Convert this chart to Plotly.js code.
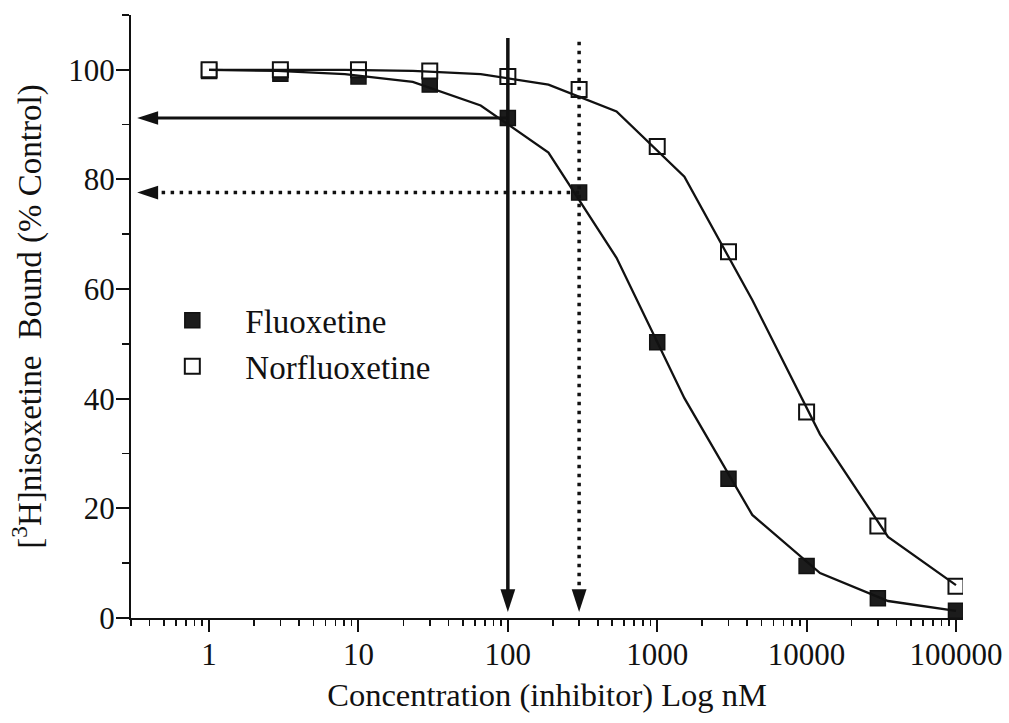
<!DOCTYPE html>
<html>
<head>
<meta charset="utf-8">
<script src="https://cdn.plot.ly/plotly-3.0.1.min.js"></script>
<style>
  html, body { margin: 0; padding: 0; background: #ffffff; }
  #chart { width: 1009px; height: 723px; }
</style>
</head>
<body>
<div id="chart"></div>
<script>
// ---- data ----
const conc = [1, 3, 10, 30, 100, 300, 1000, 3000, 10000, 30000, 100000];          // nM
const fluoxetine = [99.8, 99.3, 98.8, 97.3, 91.2, 77.6, 50.3, 25.4, 9.5, 3.6, 1.3];
const norfluoxetine = [100, 100, 100, 99.8, 98.8, 96.4, 86.0, 66.8, 37.6, 16.8, 5.8];

// fitted curves (vertices of the drawn polylines)
const fitConc = [1, 2.85, 8.11, 23.1, 65.8, 187, 534, 1520, 4330, 12300, 35100, 100000];
const fluoxetineFit = [100, 99.8, 99.2, 97.8, 93.5, 84.9, 65.7, 40.1, 18.8, 8.2, 3.1, 1.3];
const norfluoxetineFit = [100, 100, 100, 99.8, 99.2, 97.3, 92.4, 80.5, 58.0, 33.5, 14.8, 6.0];

// guide arrows: drawn from the fluoxetine points at 100 nM (solid) and 300 nM (dotted)
const arrowConc = [100, 300];
const arrowTop = [105.8, 105.1];
const arrowTipY = 1.1;
const arrowTipX = 0.33;

// axis ticks
const xTickVals = [1, 10, 100, 1000, 10000, 100000];
const xTickText = ['1', '10', '100', '1000', '10000', '100000'];
const yTickVals = [0, 20, 40, 60, 80, 100];
const yTickText = ['0', '20', '40', '60', '80', '100'];

const FONT = "'Liberation Serif', 'Times New Roman', Times, serif";
const INK = '#111111';

const solidIdx = conc.indexOf(arrowConc[0]);
const dotIdx = conc.indexOf(arrowConc[1]);
const solidY = fluoxetine[solidIdx];
const dotY = fluoxetine[dotIdx];

const traces = [
  // data markers (drawn first; lines pass over them as in the reference)
  { x: conc, y: fluoxetine, name: 'Fluoxetine', mode: 'markers',
    marker: { symbol: 'square', size: 15, color: '#1c1c1c', line: { color: INK, width: 1.5 } } },
  { x: conc, y: norfluoxetine, name: 'Norfluoxetine', mode: 'markers',
    marker: { symbol: 'square', size: 15, color: '#ffffff', line: { color: INK, width: 2 } } },
  // fitted curves
  { x: fitConc, y: norfluoxetineFit, mode: 'lines', line: { color: INK, width: 2.3 },
    showlegend: false, hoverinfo: 'skip' },
  { x: fitConc, y: fluoxetineFit, mode: 'lines', line: { color: INK, width: 2.3 },
    showlegend: false, hoverinfo: 'skip' },
  // solid guide (100 nM)
  { x: [arrowConc[0], arrowConc[0]], y: [arrowTop[0], arrowTipY + 3], mode: 'lines',
    line: { color: INK, width: 3.5 }, showlegend: false, hoverinfo: 'skip' },
  { x: [arrowConc[0], arrowTipX * 1.2], y: [solidY, solidY], mode: 'lines',
    line: { color: INK, width: 3 }, showlegend: false, hoverinfo: 'skip' },
  // dotted guide (300 nM)
  { x: [arrowConc[1], arrowConc[1]], y: [arrowTop[1], arrowTipY + 3], mode: 'lines',
    line: { color: INK, width: 3.5, dash: '3.5px,5.5px' }, showlegend: false, hoverinfo: 'skip' },
  { x: [arrowConc[1], arrowTipX * 1.2], y: [dotY, dotY], mode: 'lines',
    line: { color: INK, width: 3.5, dash: '3.5px,5.5px' }, showlegend: false, hoverinfo: 'skip' },
  // arrowheads
  { x: arrowConc, y: [arrowTipY, arrowTipY], mode: 'markers',
    marker: { symbol: 'arrow', angle: 180, size: 24, color: INK, line: { width: 0 } },
    showlegend: false, hoverinfo: 'skip' },
  { x: [arrowTipX, arrowTipX], y: [solidY, dotY], mode: 'markers',
    marker: { symbol: 'arrow', angle: 270, size: 22, color: INK, line: { width: 0 } },
    showlegend: false, hoverinfo: 'skip' }
];

const layout = {
  width: 1009,
  height: 723,
  margin: { l: 131, r: 46, t: 15, b: 105, pad: 0 },
  paper_bgcolor: '#ffffff',
  plot_bgcolor: '#ffffff',
  font: { family: FONT, size: 31, color: INK },
  showlegend: true,
  legend: {
    x: 0.01, y: 0.54, xanchor: 'left', yanchor: 'top',
    bgcolor: 'rgba(0,0,0,0)', borderwidth: 0,
    font: { family: FONT, size: 33, color: INK },
    itemwidth: 96, traceorder: 'normal'
  },
  xaxis: {
    type: 'log',
    range: [Math.log10(0.3), 5.047],
    tickmode: 'array', tickvals: xTickVals, ticktext: xTickText,
    ticks: 'outside', ticklen: 12, tickwidth: 2, tickcolor: INK,
    ticklabelstandoff: -4,
    minor: { dtick: 'D1', ticks: 'outside', ticklen: 6, tickwidth: 1.6, tickcolor: INK, showgrid: false },
    showline: true, linecolor: INK, linewidth: 2,
    showgrid: false, zeroline: false,
    tickfont: { family: FONT, size: 31, color: INK },
    title: { text: 'Concentration (inhibitor) Log nM', font: { family: FONT, size: 32.5, color: INK }, standoff: 12 }
  },
  yaxis: {
    range: [0, 110],
    tickmode: 'array', tickvals: yTickVals, ticktext: yTickText,
    ticks: 'outside', ticklen: 13, tickwidth: 2, tickcolor: INK,
    ticklabelstandoff: -5,
    minor: { dtick: 10, ticks: 'outside', ticklen: 7, tickwidth: 1.6, tickcolor: INK, showgrid: false },
    showline: true, linecolor: INK, linewidth: 2,
    showgrid: false, zeroline: false,
    tickfont: { family: FONT, size: 31, color: INK },
    title: { text: '[<sup>3</sup>H]nisoxetine  Bound (% Control)\u00a0\u00a0\u00a0', font: { family: FONT, size: 33, color: INK }, standoff: 17 }
  }
};

Plotly.newPlot('chart', traces, layout, { displayModeBar: false, staticPlot: true });
</script>
</body>
</html>
